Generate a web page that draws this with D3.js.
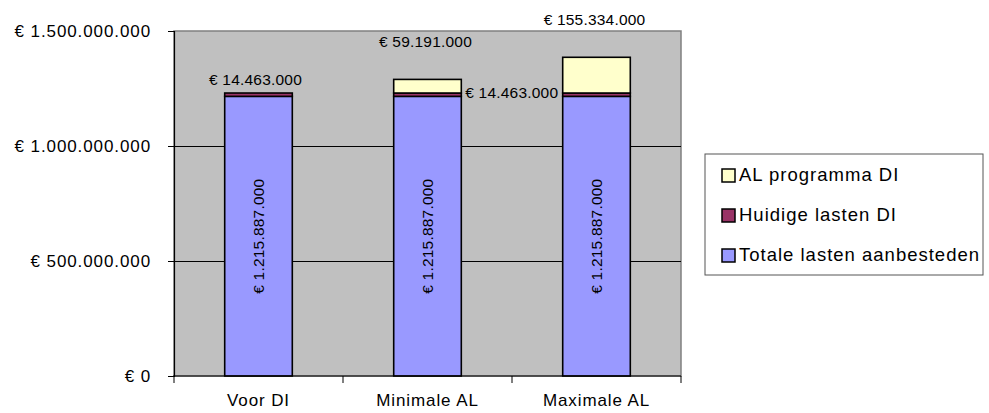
<!DOCTYPE html>
<html>
<head>
<meta charset="utf-8">
<script src="https://cdn.jsdelivr.net/npm/d3@7"></script>
<style>
  body { margin: 0; background: #fff; }
  svg text { font-family: "Liberation Sans", Arial, sans-serif; fill: #000; }
</style>
</head>
<body>
<div id="chart"></div>
<script>
var width = 989,
	height = 413;

// data
var categories = ['Voor DI', 'Minimale AL', 'Maximale AL'];
var totaleLasten = [1215887000, 1215887000, 1215887000];
var huidigeLasten = [14463000, 14463000, 14463000];
var alProgramma = [0, 59191000, 155334000];
var seriesKeys = ['totale', 'huidige', 'al'];
var seriesNames = ['Totale lasten aanbesteden', 'Huidige lasten DI', 'AL programma DI'];
var seriesColors = ['#9999ff', '#993366', '#ffffcc'];
var yTicks = [0, 500000000, 1000000000, 1500000000];

var rows = categories.map(function(c, i){
	return { cat: c, totale: totaleLasten[i], huidige: huidigeLasten[i], al: alProgramma[i] };
});

var plot = { left: 174, right: 681, top: 31, bottom: 376 };

var locale = d3.formatLocale({ decimal: ',', thousands: '.', grouping: [3], currency: ['€ ', ''] });
var euro = locale.format('$,.0f');

var svg = d3.select('#chart').append('svg')
	.attr('width', width)
	.attr('height', height);

var x = d3.scaleBand()
	.domain(categories)
	.range([plot.left, plot.right])
	.paddingInner(0.6)
	.paddingOuter(0.3);

var y = d3.scaleLinear()
	.domain([0, 1500000000])
	.range([plot.bottom, plot.top]);

// plot background
svg.append('rect')
	.attr('x', plot.left)
	.attr('y', plot.top)
	.attr('width', plot.right - plot.left)
	.attr('height', plot.bottom - plot.top)
	.attr('fill', '#c0c0c0')
	.attr('stroke', '#808080')
	.attr('stroke-width', 1.5);

// gridlines
svg.append('g').selectAll('line')
	.data(yTicks.slice(1, -1))
	.enter().append('line')
	.attr('x1', plot.left)
	.attr('x2', plot.right)
	.attr('y1', function(d){ return Math.round(y(d)) + 0.5; })
	.attr('y2', function(d){ return Math.round(y(d)) + 0.5; })
	.attr('stroke', '#000')
	.attr('stroke-width', 1);

// stacked bars
var stack = d3.stack().keys(seriesKeys);
var layers = stack(rows);

svg.append('g').selectAll('g')
	.data(layers)
	.enter().append('g')
	.attr('fill', function(d, i){ return seriesColors[i]; })
	.selectAll('rect')
	.data(function(d){ return d.filter(function(p){ return p[1] > p[0]; }); })
	.enter().append('rect')
	.attr('x', function(d){ return x(d.data.cat); })
	.attr('width', x.bandwidth())
	.attr('y', function(d){ return y(d[1]); })
	.attr('height', function(d){ return y(d[0]) - y(d[1]); })
	.attr('stroke', '#000')
	.attr('stroke-width', 1.6);

// y axis
var yAxis = svg.append('g')
	.attr('transform', 'translate(' + plot.left + ',0)')
	.call(d3.axisLeft(y).tickValues(yTicks).tickSize(6).tickPadding(17).tickFormat(euro));
yAxis.select('.domain').attr('stroke', '#000').attr('stroke-width', 1.2);
yAxis.selectAll('text')
	.style('font-size', '17px')
	.style('letter-spacing', '0.9px')
	.attr('font-family', null);

// x axis (labels at centres, ticks between categories)
var xAxis = svg.append('g')
	.attr('transform', 'translate(0,' + plot.bottom + ')')
	.call(d3.axisBottom(x).tickSize(0).tickPadding(18));
xAxis.select('.domain').remove();
xAxis.selectAll('text')
	.style('font-size', '17px')
	.style('letter-spacing', '0.9px')
	.attr('font-family', null);

svg.append('line')
	.attr('x1', plot.left - 1)
	.attr('x2', plot.right)
	.attr('y1', plot.bottom)
	.attr('y2', plot.bottom)
	.attr('stroke', '#000')
	.attr('stroke-width', 1.2);

var bounds = d3.range(categories.length + 1).map(function(i){ return plot.left + i * x.step(); });
svg.append('g').selectAll('line')
	.data(bounds)
	.enter().append('line')
	.attr('x1', function(d){ return d; })
	.attr('x2', function(d){ return d; })
	.attr('y1', plot.bottom)
	.attr('y2', plot.bottom + 7)
	.attr('stroke', '#000');

// data labels
var labels = svg.append('g').style('font-size', '15.5px').style('letter-spacing', '0.2px');

// totale lasten, rotated inside the blue part
labels.selectAll('text.tot')
	.data(rows)
	.enter().append('text')
	.attr('class', 'tot')
	.attr('text-anchor', 'middle')
	.attr('transform', function(d){
		var cx = x(d.cat) + x.bandwidth() / 2 + 5;
		var cy = (y(0) + y(d.totale)) / 2;
		return 'translate(' + cx + ',' + cy + ') rotate(-90)';
	})
	.text(function(d){ return euro(d.totale); });

// huidige lasten: above the first bar, right of the second
labels.append('text')
	.attr('text-anchor', 'middle')
	.attr('x', x(rows[0].cat) + x.bandwidth() / 2 - 3)
	.attr('y', y(rows[0].totale + rows[0].huidige) - 8)
	.text(euro(rows[0].huidige));

labels.append('text')
	.attr('x', x(rows[1].cat) + x.bandwidth() + 4)
	.attr('y', y(rows[1].totale + rows[1].huidige) + 5)
	.text(euro(rows[1].huidige));

// AL programma, above the bars that have it
labels.selectAll('text.al')
	.data(rows.filter(function(d){ return d.al > 0; }))
	.enter().append('text')
	.attr('class', 'al')
	.attr('text-anchor', 'middle')
	.attr('x', function(d){ return x(d.cat) + x.bandwidth() / 2 - 2; })
	.attr('y', function(d){ return y(d.totale + d.huidige + d.al) - 32; })
	.text(function(d){ return euro(d.al); });

// legend
var legend = svg.append('g').attr('transform', 'translate(705,154)');
legend.append('rect')
	.attr('width', 278)
	.attr('height', 121)
	.attr('fill', '#fff')
	.attr('stroke', '#555')
	.attr('stroke-width', 1);

var items = legend.selectAll('g.item')
	.data(d3.range(seriesNames.length).reverse())
	.enter().append('g')
	.attr('class', 'item')
	.attr('transform', function(d, i){ return 'translate(17,' + (21 + i * 40) + ')'; });

items.append('rect')
	.attr('x', 0)
	.attr('y', -6)
	.attr('width', 13)
	.attr('height', 13)
	.attr('fill', function(d){ return seriesColors[d]; })
	.attr('stroke', '#000')
	.attr('stroke-width', 1.5);

items.append('text')
	.attr('x', 17)
	.attr('dy', '0.35em')
	.style('font-size', '18.5px')
	.style('letter-spacing', '1px')
	.text(function(d){ return seriesNames[d]; });
</script>
</body>
</html>
